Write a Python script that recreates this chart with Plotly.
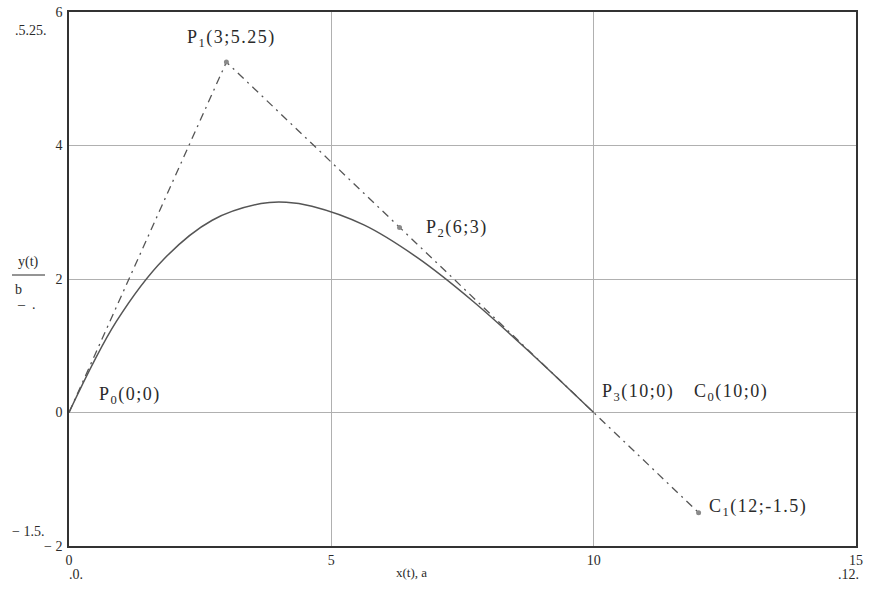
import plotly.graph_objects as go

# Bezier curve points
curve_x = [0, 0.90, 1.81, 2.73, 3.66, 4.14, 4.63, 5.62, 6.64, 7.71, 8.83, 10.0]
curve_y = [0, 1.36, 2.30, 2.88, 3.13, 3.15, 3.09, 2.81, 2.32, 1.66, 0.87, 0.0]

# Control polygon (dash-dot)
poly_x = [0, 3, 10, 12]
poly_y = [0, 5.25, 0, -1.5]

# Marked points
mark_x = [3, 6.3, 12]
mark_y = [5.25, 2.77, -1.5]

xticks = [0, 5, 10, 15]
yticks = [-2, 0, 2, 4, 6]

FONT = "Liberation Serif"
INK = "#2a2a2a"
HS = "\u200a"  # hair space for the wide letter spacing


def spaced(parts):
    return HS.join(parts)


fig = go.Figure()
fig.add_trace(go.Scatter(x=poly_x, y=poly_y, mode="lines",
                         line=dict(color="#555555", width=1.3, dash="8px,5px,2px,5px"),
                         hoverinfo="skip", showlegend=False))
fig.add_trace(go.Scatter(x=curve_x, y=curve_y, mode="lines", line_shape="spline",
                         line=dict(color="#555555", width=1.5),
                         showlegend=False))
fig.add_trace(go.Scatter(x=mark_x, y=mark_y, mode="markers",
                         marker=dict(color="#8a8a8a", size=5),
                         showlegend=False))

labels = [
    (2.21, 5.61, spaced(["P", "<sub>1</sub>", "(", "3", ";", "5", ".", "2", "5", ")"])),
    (6.77, 2.76, spaced(["P", "<sub>2</sub>", "(", "6", ";", "3", ")"])),
    (0.53, 0.26, spaced(["P", "<sub>0</sub>", "(", "0", ";", "0", ")"])),
    (10.12, 0.30, spaced(["P", "<sub>3</sub>", "(", "1", "0", ";", "0", ")"])),
    (11.87, 0.30, spaced(["C", "<sub>0</sub>", "(", "1", "0", ";", "0", ")"])),
    (12.16, -1.42, spaced(["C", "<sub>1</sub>", "(", "1", "2", ";", "-", "1", ".", "5", ")"])),
]
ann = []
for x, y, t in labels:
    ann.append(dict(x=x, y=y, xref="x", yref="y", text=t, showarrow=False,
                    xanchor="left", yanchor="middle",
                    font=dict(family=FONT, size=18, color=INK)))


def paper(px, py, text, size=13, anchor="center"):
    return dict(x=(px - 69) / 787, y=(546 - py) / 534, xref="paper", yref="paper",
                text=text, showarrow=False, xanchor=anchor, yanchor="middle",
                font=dict(family=FONT, size=size, color=INK))


ann += [
    paper(31, 31, ".5.25.", 14),
    paper(28, 531, "\u2212 1.5.", 14),
    paper(76, 574, ".0.", 14),
    paper(848, 574, ".12.", 14),
    paper(411, 572, "x(t), a", 13),
    paper(28, 262, "y(t)", 14),
    paper(18, 289, "b", 14),
    paper(26, 304, "\u2013  .", 14),
]

fig.update_layout(
    width=869, height=592,
    margin=dict(l=69, r=13, t=12, b=46),
    paper_bgcolor="white", plot_bgcolor="white",
    annotations=ann,
    shapes=[dict(type="line", xref="paper", yref="paper",
                 x0=(12 - 69) / 787, x1=(45 - 69) / 787,
                 y0=(546 - 275) / 534, y1=(546 - 275) / 534,
                 line=dict(color=INK, width=1))],
    xaxis=dict(range=[0, 15], tickvals=xticks, ticktext=[str(v) for v in xticks],
               showgrid=True, gridcolor="#b0b0b0", gridwidth=1,
               showline=True, linecolor="#333333", linewidth=1.5, mirror=True,
               zeroline=False, ticks="", automargin=False,
               tickfont=dict(family=FONT, size=14, color=INK)),
    yaxis=dict(range=[-2, 6], tickvals=yticks,
               ticktext=["\u2212 2", "0", "2", "4", "6"],
               showgrid=True, gridcolor="#b0b0b0", gridwidth=1,
               showline=True, linecolor="#333333", linewidth=1.5, mirror=True,
               zeroline=False, ticks="", ticklabelstandoff=2, automargin=False,
               tickfont=dict(family=FONT, size=14, color=INK)),
)

fig.write_html("out.html", config={"displayModeBar": False},
               post_script="document.body.style.margin='0';document.body.style.overflow='hidden';")
